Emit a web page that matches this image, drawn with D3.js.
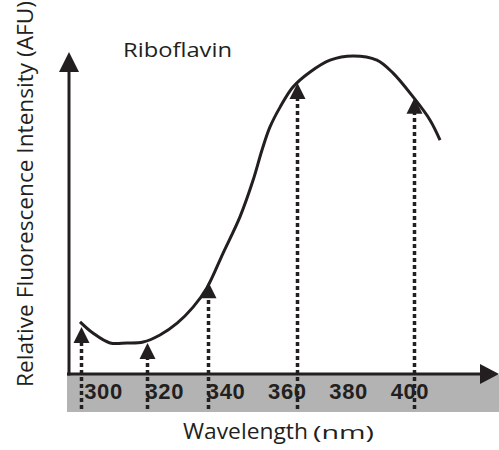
<!DOCTYPE html>
<html>
<head>
<meta charset="utf-8">
<script src="https://cdn.jsdelivr.net/npm/d3@7/dist/d3.min.js"></script>
<style>
html,body{margin:0;padding:0;background:#fff;}
svg{display:block;}
</style>
</head>
<body>
<svg id="chart" width="499" height="450"></svg>
<script>
// ---- data ----
const tickLabels = [300, 320, 340, 360, 380, 400];
const wavelengths = [292.5, 296.7, 302.3, 307.8, 313.1, 318.6, 324.2, 329.4, 333.9, 339.2, 344.7, 349.0, 351.9, 354.5, 357.8, 362.0, 367.6, 374.1, 381.6, 389.4, 394.6, 401.2, 406.7, 410.0];
const intensity   = [16.3, 12.8, 9.7, 9.7, 10.0, 12.2, 15.9, 20.9, 26.9, 37.8, 49.1, 60.6, 70.0, 77.2, 83.4, 89.7, 94.4, 98.1, 99.4, 98.1, 94.1, 86.6, 79.4, 73.1];
const excitationWl = [292.8, 314.4, 334.3, 363.3, 401.5];
const excitationTip = [14.7, 9.7, 28.7, 90.9, 86.3];
const title = "Riboflavin";
const xTitleMain = "Wavelength";
const xTitleUnit = "(nm)";
const yTitle = "Relative Fluorescence Intensity (AFU)";

// ---- layout ----
const ink = "#231f20";
const svg = d3.select("#chart");
const x = d3.scaleLinear().domain([300, 400]).range([103, 409.4]);
const y = d3.scaleLinear().domain([0, 100]).range([374, 54]);
const axisY = 374, axisX = 69;
const crisp = v => Math.round(v) + 0.5;

// gray band under the axis
svg.append("rect").attr("x", 67).attr("y", 375).attr("width", 432).attr("height", 37).attr("fill", "#b3b3b3");

// tick labels via d3 axis (no lines)
const xAxis = d3.axisBottom(x).tickValues(tickLabels).tickSize(0).tickPadding(0).tickFormat(d3.format("d"));
const gx = svg.append("g").attr("transform", `translate(0,${axisY})`).call(xAxis);
gx.select(".domain").remove();
gx.selectAll("text")
  .attr("y", 25).attr("dy", 0)
  .attr("fill", ink)
  .style("font-family", "'Liberation Sans Narrow','Arial Narrow','Liberation Sans',sans-serif")
  .style("font-weight", "bold")
  .style("font-size", "22px")
  .style("letter-spacing", "0.6px");

// axes lines
svg.append("line").attr("x1", axisX).attr("x2", axisX).attr("y1", axisY + 1.5).attr("y2", 70)
  .attr("stroke", ink).attr("stroke-width", 3);
svg.append("path").attr("d", `M${axisX - 10},72 L${axisX},52 L${axisX + 10},72 Z`).attr("fill", ink);
svg.append("line").attr("x1", 67).attr("x2", 482).attr("y1", axisY).attr("y2", axisY)
  .attr("stroke", ink).attr("stroke-width", 3);
svg.append("path").attr("d", `M480,${axisY - 10} L499,${axisY} L480,${axisY + 10} Z`).attr("fill", ink);

// dotted excitation arrows
const ex = excitationWl.map((w, i) => ({w, v: excitationTip[i]}));
svg.append("g").selectAll("line").data(ex).join("line")
  .attr("x1", d => crisp(x(d.w))).attr("x2", d => crisp(x(d.w)))
  .attr("y1", 409).attr("y2", d => y(d.v) + 14)
  .attr("stroke", ink).attr("stroke-width", 3.5).attr("stroke-dasharray", "4,3");
svg.append("g").selectAll("path").data(ex).join("path")
  .attr("d", d => { const cx = crisp(x(d.w)), ty = y(d.v); return `M${cx - 8},${ty + 16} L${cx},${ty} L${cx + 8},${ty + 16} Z`; })
  .attr("fill", ink);

// curve
const pts = wavelengths.map((w, i) => [w, intensity[i]]);
const line = d3.line().x(d => x(d[0])).y(d => y(d[1])).curve(d3.curveCatmullRom.alpha(0.5));
svg.append("path").attr("d", line(pts)).attr("fill", "none").attr("stroke", ink).attr("stroke-width", 3)
  .attr("stroke-linecap", "butt");

// texts
const sans = "'Open Sans','Noto Sans',sans-serif";
svg.append("text").attr("x", 123).attr("y", 57).text(title)
  .attr("fill", ink).style("font-family", sans).style("font-size", "20px")
  .attr("textLength", 109).attr("lengthAdjust", "spacingAndGlyphs");
const xt = svg.append("text").attr("x", 183).attr("y", 439)
  .attr("fill", ink).style("font-family", sans);
xt.append("tspan").text(xTitleMain).style("font-size", "21px")
  .attr("textLength", 125).attr("lengthAdjust", "spacingAndGlyphs");
xt.append("tspan").text(xTitleUnit).attr("x", 313).style("font-size", "18px")
  .attr("textLength", 61).attr("lengthAdjust", "spacingAndGlyphs");
svg.append("text").attr("transform", "translate(33,387) rotate(-90)").attr("x", 0).attr("y", 0).text(yTitle)
  .attr("fill", ink).style("font-family", sans).style("font-size", "21px")
  .attr("textLength", 386).attr("lengthAdjust", "spacingAndGlyphs");
</script>
</body>
</html>
